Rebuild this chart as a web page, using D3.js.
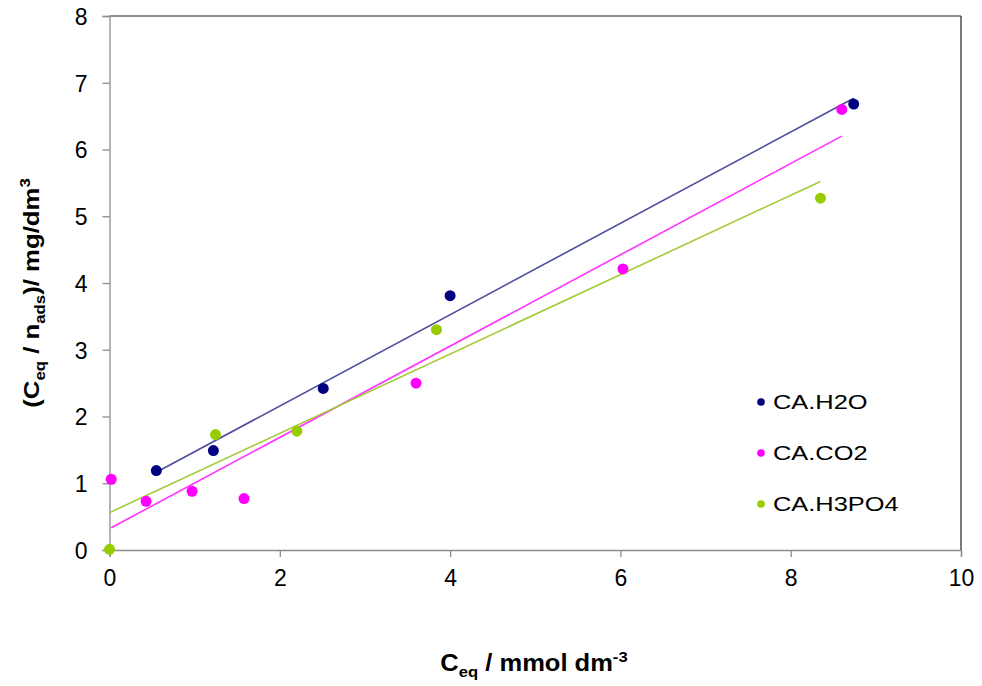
<!DOCTYPE html>
<html>
<head>
<meta charset="utf-8">
<script src="https://cdn.jsdelivr.net/npm/d3@7"></script>
<style>
  body { margin: 0; background: #fff; }
  text { font-family: "Liberation Sans", Arial, sans-serif; fill: #000; }
</style>
</head>
<body>
<svg id="chart" width="982" height="686"></svg>
<script>

// Data
var seriesNames = ["CA.H2O", "CA.CO2", "CA.H3PO4"];
var seriesColors = ["#000080", "#ff00ff", "#99cc00"];
var trendColors = ["#4d4d9e", "#ff33ff", "#a3cc3a"];

var h2oX = [0.55, 1.22, 2.51, 4.0, 8.74];
var h2oY = [1.19, 1.49, 2.42, 3.81, 6.68];

var co2X = [0.02, 0.43, 0.97, 1.58, 3.60, 6.03, 8.60];
var co2Y = [1.06, 0.73, 0.88, 0.77, 2.50, 4.21, 6.60];

var h3po4X = [0.0, 1.245, 2.2, 3.84, 8.35];
var h3po4Y = [0.01, 1.73, 1.78, 3.30, 5.27];

var xTicks = [0, 2, 4, 6, 8, 10];
var yTicks = [0, 1, 2, 3, 4, 5, 6, 7, 8];

var allX = [h2oX, co2X, h3po4X];
var allY = [h2oY, co2Y, h3po4Y];

// Dimensions
var margin = {left: 109.5, top: 16, right: 21, bottom: 136};
var width = 982 - margin.left - margin.right;
var height = 686 - margin.top - margin.bottom;

var svg = d3.select("#chart");
var g = svg.append("g")
    .attr("transform", "translate(" + margin.left + "," + margin.top + ")");

var x = d3.scaleLinear().domain([0, 10]).range([0, width]);
var y = d3.scaleLinear().domain([0, 8]).range([height, 0]);

// frame top/right
g.append("line").attr("x1", 0).attr("x2", width).attr("y1", 0).attr("y2", 0)
    .attr("stroke", "#222").attr("stroke-width", 1.2);
g.append("line").attr("x1", width).attr("x2", width).attr("y1", 0).attr("y2", height)
    .attr("stroke", "#222").attr("stroke-width", 1.2);

// Axes
var xAxis = g.append("g")
    .attr("transform", "translate(0," + height + ")")
    .call(d3.axisBottom(x).tickValues(xTicks).tickSize(7).tickPadding(13).tickFormat(d3.format("d")));
var yAxis = g.append("g")
    .call(d3.axisLeft(y).tickValues(yTicks).tickSize(7).tickPadding(15).tickFormat(d3.format("d")));

[xAxis, yAxis].forEach(function(a) {
    a.select(".domain").attr("stroke", "#8c8c8c").attr("stroke-width", 1.3);
    a.selectAll(".tick line").attr("stroke", "#8c8c8c").attr("stroke-width", 1.3);
    a.selectAll(".tick text")
        .style("font-family", "'Liberation Sans', Arial, sans-serif")
        .style("font-size", "23px")
        .attr("fill", "#000");
});
yAxis.selectAll(".tick text").attr("dy", "0.36em");

// linear fits (least squares), drawn from min x to max x
function fit(xs, ys) {
    var mx = d3.mean(xs), my = d3.mean(ys);
    var sxy = d3.sum(xs, function(v, i) { return (v - mx) * (ys[i] - my); });
    var sxx = d3.sum(xs, function(v) { return (v - mx) * (v - mx); });
    var slope = sxy / sxx;
    return {slope: slope, intercept: my - slope * mx};
}

allX.forEach(function(xs, s) {
    var f = fit(xs, allY[s]);
    var x0 = d3.min(xs), x1 = d3.max(xs);
    g.append("line")
        .attr("x1", x(x0)).attr("y1", y(f.intercept + f.slope * x0))
        .attr("x2", x(x1)).attr("y2", y(f.intercept + f.slope * x1))
        .attr("stroke", trendColors[s])
        .attr("stroke-width", 1.6);
});

// points
allX.forEach(function(xs, s) {
    g.append("g").selectAll("circle")
        .data(xs)
        .enter()
        .append("circle")
        .attr("cx", function(d) { return x(d); })
        .attr("cy", function(d, i) { return y(allY[s][i]); })
        .attr("r", 5.5)
        .attr("fill", seriesColors[s]);
});

// legend (text is a bit stretched sideways in the original)
var legend = svg.append("g").attr("transform", "translate(761,402)");
seriesNames.forEach(function(name, i) {
    var row = legend.append("g").attr("transform", "translate(0," + (i * 51) + ")");
    row.append("circle").attr("r", 3.8).attr("fill", seriesColors[i]);
    row.append("text")
        .attr("transform", "translate(12,0) scale(1.27,1)")
        .attr("dy", "0.35em")
        .style("font-size", "20px")
        .text(name);
});

// y axis title
var yTitle = svg.append("text")
    .attr("transform", "translate(39,293) rotate(-90) scale(1.12,1)")
    .attr("text-anchor", "middle")
    .style("font-size", "23px")
    .style("font-weight", "bold");
yTitle.append("tspan").text("(C");
yTitle.append("tspan").attr("dy", 6).style("font-size", "15px").text("eq");
yTitle.append("tspan").attr("dy", -6).text(" / n");
yTitle.append("tspan").attr("dy", 6).style("font-size", "15px").text("ads");
yTitle.append("tspan").attr("dy", -6).text(")/ mg/dm");
yTitle.append("tspan").attr("dy", -9).style("font-size", "15px").text("3");

// x axis title
var xTitle = svg.append("text")
    .attr("transform", "translate(534,671) scale(1.11,1)")
    .attr("text-anchor", "middle")
    .style("font-size", "23px")
    .style("font-weight", "bold");
xTitle.append("tspan").text("C");
xTitle.append("tspan").attr("dy", 6).style("font-size", "15px").text("eq");
xTitle.append("tspan").attr("dy", -6).text(" / mmol dm");
xTitle.append("tspan").attr("dy", -9).style("font-size", "15px").text("-3");

</script>
</body>
</html>
